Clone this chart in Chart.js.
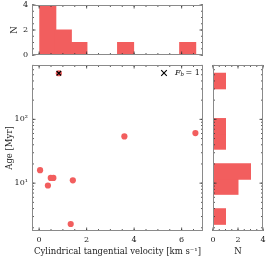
<!DOCTYPE html>
<html><head><meta charset="utf-8">
<script src="https://cdn.jsdelivr.net/npm/chart.js@4"></script>
<style>
html,body{margin:0;padding:0;background:#fff;}
#wrap{position:relative;width:269px;height:259px;}
canvas{position:absolute;left:0;top:0;}
</style></head><body>
<div id="wrap">
<canvas id="cTop" width="269" height="259"></canvas>
<canvas id="cMain" width="269" height="259"></canvas>
<canvas id="cRight" width="269" height="259"></canvas>
</div>
<script>
// ---- data ----
const velocity = [0.83, 3.59, 6.58, 0.04, 0.49, 0.60, 0.37, 1.42, 1.33];
const age      = [528, 54, 61, 16, 12.1, 12.1, 9.2, 11.1, 2.29];
const fbVelocity = [0.83];
const fbAge      = [528];
const fbLabel = 'F_b = 1';
// top histogram (velocity)
const velBinEdges = [0.04, 0.69, 1.35, 2.00, 2.66, 3.31, 3.97, 4.62, 5.27, 5.93, 6.58];
const velCounts   = [4, 2, 1, 0, 0, 1, 0, 0, 0, 1];
// right histogram (age, log bins)
const ageBinEdges = [2.29, 3.93, 6.77, 11.6, 20.0, 34.4, 59.2, 102, 175, 301, 528];
const ageCounts   = [1, 0, 2, 3, 0, 1, 1, 0, 0, 1];
// axis ticks
const velTicks = [0, 2, 4, 6];
const ageTicks = [10, 100];
const ageTickLabels = ['10\u00B9', '10\u00B2'];
const countTicks = [0, 2, 4];
const xLabel = 'Cylindrical tangential velocity [km s\u207B\u00B9]';
const yLabel = 'Age [Myr]';
const nLabel = 'N';

const RED = '#f25e5e';
const FONT = 'DejaVu Serif';
const tickFont = {family: FONT, size: 8};
const titleFont = {family: FONT, size: 8.5};

function range(a, b, s){ const r=[]; for(let v=a; v<=b+1e-9; v+=s) r.push(+v.toFixed(6)); return r; }
const velMinor = range(-0.5, 7, 0.5);
const countMinor = range(0, 4, 0.5);
const ageMinor = [];
[1,10,100].forEach(d=>{ for(let k=1;k<10;k++) ageMinor.push(k*d); });

// inward ticks + frame
const inTicks = {
  id: 'inTicks',
  afterDraw(chart, args, opts){
    const ctx = chart.ctx, a = chart.chartArea;
    ctx.save();
    ctx.strokeStyle = '#333'; ctx.lineWidth = 0.8;
    const L = a.left, R = a.right, T = a.top, B = a.bottom;
    function xt(scale, vals, len){
      vals.forEach(v=>{
        const p = scale.getPixelForValue(v);
        if (p < L-0.1 || p > R+0.1) return;
        ctx.beginPath(); ctx.moveTo(p, B); ctx.lineTo(p, B-len);
        ctx.moveTo(p, T); ctx.lineTo(p, T+len); ctx.stroke();
      });
    }
    function yt(scale, vals, len){
      vals.forEach(v=>{
        const p = scale.getPixelForValue(v);
        if (p < T-0.1 || p > B+0.1) return;
        ctx.beginPath(); ctx.moveTo(L, p); ctx.lineTo(L+len, p);
        ctx.moveTo(R, p); ctx.lineTo(R-len, p); ctx.stroke();
      });
    }
    if (opts.x){ xt(chart.scales.x, opts.x.major, 3.5); xt(chart.scales.x, opts.x.minor, 2); }
    if (opts.y){ yt(chart.scales.y, opts.y.major, 3.5); yt(chart.scales.y, opts.y.minor, 2); }
    ctx.strokeStyle = '#8a8a8a'; ctx.lineWidth = 1;
    ctx.strokeRect(Math.round(L)+0.5, Math.round(T)+0.5, Math.round(R-L)-1, Math.round(B-T)-1);
    if (opts.legend){
      const lx = R - 39, ly = T + 8;
      ctx.strokeStyle = '#000'; ctx.lineWidth = 1.1;
      ctx.beginPath(); ctx.moveTo(lx-2.8, ly-2.8); ctx.lineTo(lx+2.8, ly+2.8);
      ctx.moveTo(lx+2.8, ly-2.8); ctx.lineTo(lx-2.8, ly+2.8); ctx.stroke();
      ctx.fillStyle = '#111'; ctx.textBaseline = 'middle';
      let tx = lx + 11;
      ctx.font = 'italic 8px "' + FONT + '"'; ctx.fillText('F', tx, ly); tx += ctx.measureText('F').width;
      ctx.font = 'italic 5.5px "' + FONT + '"'; ctx.fillText('b', tx, ly+2); tx += ctx.measureText('b').width + 1.5;
      ctx.font = '8px "' + FONT + '"'; ctx.fillText('= 1', tx, ly);
    }
    ctx.restore();
  }
};

function fixW(w){ return s=>{ s.width = w; s.paddingTop = 0; s.paddingBottom = 0; s.paddingLeft = 0; s.paddingRight = 0; }; }
function fixH(h){ return s=>{ s.height = h; s.paddingTop = 0; s.paddingBottom = 0; s.paddingLeft = 0; s.paddingRight = 0; }; }

// ---- main scatter ----
new Chart(document.getElementById('cMain'), {
  type: 'scatter',
  data: { datasets: [
    { label: fbLabel, data: fbVelocity.map((v,i)=>({x:v, y:fbAge[i]})), pointStyle: 'crossRot',
      pointRadius: 3.2, borderColor: '#000', borderWidth: 1.2, backgroundColor: '#000', order: 0 },
    { label: 'all', data: velocity.map((v,i)=>({x:v, y:age[i]})), pointStyle: 'circle',
      pointRadius: 3.1, backgroundColor: RED, borderWidth: 0, order: 1 }
  ]},
  options: {
    responsive: false, animation: false, events: [],
    layout: { padding: {left: 0, top: 65, right: 66, bottom: 0} },
    plugins: { legend: {display: false}, tooltip: {enabled: false},
      inTicks: { x: {major: velTicks, minor: velMinor}, y: {major: ageTicks, minor: ageMinor}, legend: true } },
    scales: {
      x: { type: 'linear', min: -0.3, max: 6.9, afterFit: fixH(28),
        afterBuildTicks: s=>{ s.ticks = velTicks.map(v=>({value:v})); },
        grid: {display: false, drawTicks: false}, border: {display: false},
        ticks: {font: tickFont, color: '#222', padding: 4, maxRotation: 0},
        title: {display: true, text: xLabel, font: titleFont, color: '#222', padding: {top: 2, bottom: 2}} },
      y: { type: 'logarithmic', min: 1.78, max: 711, afterFit: fixW(32),
        afterBuildTicks: s=>{ s.ticks = ageTicks.map(v=>({value:v})); },
        grid: {display: false, drawTicks: false}, border: {display: false},
        ticks: {font: tickFont, color: '#222', padding: 4, callback: (v)=>{ const i = ageTicks.indexOf(v); return i>=0 ? ageTickLabels[i] : ''; }},
        title: {display: true, text: yLabel, font: titleFont, color: '#222', padding: {top: 5, bottom: 0}} }
    }
  },
  plugins: [inTicks]
});

// ---- top histogram ----
const velCenters = velCounts.map((c,i)=>(velBinEdges[i]+velBinEdges[i+1])/2);
new Chart(document.getElementById('cTop'), {
  type: 'bar',
  data: { datasets: [{ data: velCounts.map((c,i)=>({x:velCenters[i], y:c})), backgroundColor: RED,
    borderWidth: 0, barPercentage: 1.04, categoryPercentage: 1, inflateAmount: 0.5 }]},
  options: {
    responsive: false, animation: false, events: [],
    layout: { padding: {left: 0, top: 5, right: 66, bottom: 204} },
    plugins: { legend: {display: false}, tooltip: {enabled: false},
      inTicks: { x: {major: velTicks, minor: velMinor}, y: {major: countTicks, minor: countMinor} } },
    scales: {
      x: { type: 'linear', min: -0.3, max: 6.9, display: false, offset: false,
        afterBuildTicks: s=>{ s.ticks = velCenters.map(v=>({value:v})); } },
      y: { type: 'linear', min: 0, max: 4, afterFit: fixW(32),
        afterBuildTicks: s=>{ s.ticks = countTicks.map(v=>({value:v})); },
        grid: {display: false, drawTicks: false}, border: {display: false},
        ticks: {font: tickFont, color: '#222', padding: 4},
        title: {display: true, text: nLabel, font: titleFont, color: '#222', padding: {top: 10, bottom: 0}} }
    }
  },
  plugins: [inTicks]
});

// ---- right histogram ----
const ageCenters = ageCounts.map((c,i)=>Math.sqrt(ageBinEdges[i]*ageBinEdges[i+1]));
new Chart(document.getElementById('cRight'), {
  type: 'bar',
  data: { datasets: [{ data: ageCounts.map((c,i)=>({x:c, y:ageCenters[i]})), backgroundColor: RED,
    borderWidth: 0, barPercentage: 1.04, categoryPercentage: 1, inflateAmount: 0.5 }]},
  options: {
    indexAxis: 'y',
    responsive: false, animation: false, events: [],
    layout: { padding: {left: 213, top: 65, right: 6, bottom: 0} },
    plugins: { legend: {display: false}, tooltip: {enabled: false},
      inTicks: { x: {major: countTicks, minor: countMinor}, y: {major: ageTicks, minor: ageMinor} } },
    scales: {
      x: { type: 'linear', min: 0, max: 4, afterFit: fixH(28),
        afterBuildTicks: s=>{ s.ticks = countTicks.map(v=>({value:v})); },
        grid: {display: false, drawTicks: false}, border: {display: false},
        ticks: {font: tickFont, color: '#222', padding: 4, maxRotation: 0},
        title: {display: true, text: nLabel, font: titleFont, color: '#222', padding: {top: 2, bottom: 2}} },
      y: { type: 'logarithmic', min: 1.78, max: 711, display: false, offset: false,
        afterBuildTicks: s=>{ s.ticks = ageCenters.map(v=>({value:v})); } }
    }
  },
  plugins: [inTicks]
});
</script>
</body></html>
